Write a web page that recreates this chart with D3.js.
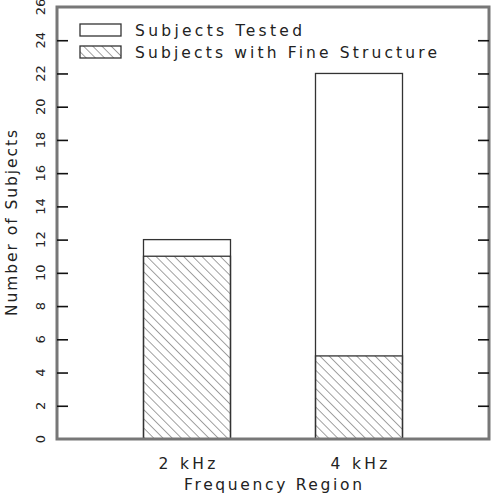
<!DOCTYPE html>
<html><head><meta charset="utf-8">
<script src="https://cdn.jsdelivr.net/npm/d3@7"></script>
<style>html,body{margin:0;padding:0;background:#fff;}</style>
</head><body>
<svg id="c" width="492" height="496"></svg>
<script>
const categories = ["2 kHz", "4 kHz"];
const subjectsTested = [12, 22];
const subjectsFine = [11, 5];
const yTicks = [0,2,4,6,8,10,12,14,16,18,20,22,24,26];
const legendLabels = ["Subjects Tested", "Subjects with Fine Structure"];

const svg = d3.select("#c");
const L = 57, R = 489, T = 7, B = 439;
const y = d3.scaleLinear().domain([0, 26]).range([B, T]);
const x = d3.scalePoint().domain(categories).range([187, 359]);
const bw = 87;
const font = "'DejaVu Sans', sans-serif";

const defs = svg.append("defs");
const pat = defs.append("pattern").attr("id","hatch").attr("patternUnits","userSpaceOnUse")
  .attr("width",6.5).attr("height",6.5).attr("patternTransform","rotate(-45)");
pat.append("line").attr("x1",0).attr("y1",0).attr("x2",0).attr("y2",6.5)
  .attr("stroke","#555").attr("stroke-width",1.1);

// bars
const g = svg.append("g");
categories.forEach((c,i)=>{
  const x0 = x(c) - bw/2;
  g.append("rect").attr("x",x0).attr("y",y(subjectsTested[i])).attr("width",bw)
    .attr("height",y(0)-y(subjectsTested[i])).attr("fill","#fff").attr("stroke","#333").attr("stroke-width",1.3);
  g.append("rect").attr("x",x0).attr("y",y(subjectsFine[i])).attr("width",bw)
    .attr("height",y(0)-y(subjectsFine[i])).attr("fill","url(#hatch)").attr("stroke","#333").attr("stroke-width",1.3);
});

// frame
svg.append("rect").attr("x",L).attr("y",T).attr("width",R-L).attr("height",B-T)
  .attr("fill","none").attr("stroke","#777").attr("stroke-width",3);

// ticks (inward) on left and right
const axL = d3.axisRight(y).tickValues(yTicks.slice(1,-1)).tickSize(11).tickFormat("");
svg.append("g").attr("transform",`translate(${L},0)`).call(axL)
  .call(s=>s.select(".domain").remove())
  .selectAll("line").attr("stroke","#111").attr("stroke-width",1.6);
const axR = d3.axisLeft(y).tickValues(yTicks.slice(1,-1)).tickSize(11).tickFormat("");
svg.append("g").attr("transform",`translate(${R},0)`).call(axR)
  .call(s=>s.select(".domain").remove())
  .selectAll("line").attr("stroke","#111").attr("stroke-width",1.6);

// y tick labels rotated
svg.append("g").selectAll("text").data(yTicks).join("text")
  .attr("transform",d=>`translate(45,${y(d)}) rotate(-90)`)
  .attr("text-anchor","middle").attr("font-family",font).attr("font-size",13)
  .attr("fill","#222").text(d=>d);

// y title
svg.append("text").attr("transform",`translate(17,223) rotate(-90)`)
  .attr("text-anchor","middle").attr("font-family",font).attr("font-size",15.5)
  .attr("fill","#222").attr("textLength",186).text("Number of Subjects");

// x labels
svg.append("g").selectAll("text").data(categories).join("text")
  .attr("x",d=>x(d)).attr("y",469).attr("text-anchor","middle")
  .attr("font-family",font).attr("font-size",15.5).attr("fill","#222")
  .attr("textLength",57).text(d=>d);
svg.append("text").attr("x",273).attr("y",490).attr("text-anchor","middle")
  .attr("font-family",font).attr("font-size",15.5).attr("fill","#222")
  .attr("textLength",178).text("Frequency Region");

// legend
const lg = svg.append("g");
const lw = [167, 302];
legendLabels.forEach((t,i)=>{
  const yy = 24 + i*22;
  lg.append("rect").attr("x",80).attr("y",yy).attr("width",41).attr("height",12)
    .attr("fill", i===0 ? "#fff" : "url(#hatch)").attr("stroke","#333").attr("stroke-width",1.3);
  lg.append("text").attr("x",135).attr("y",yy+11.5).attr("font-family",font).attr("font-size",15.5)
    .attr("fill","#222").attr("textLength",lw[i]).text(t);
});
</script>
</body></html>
